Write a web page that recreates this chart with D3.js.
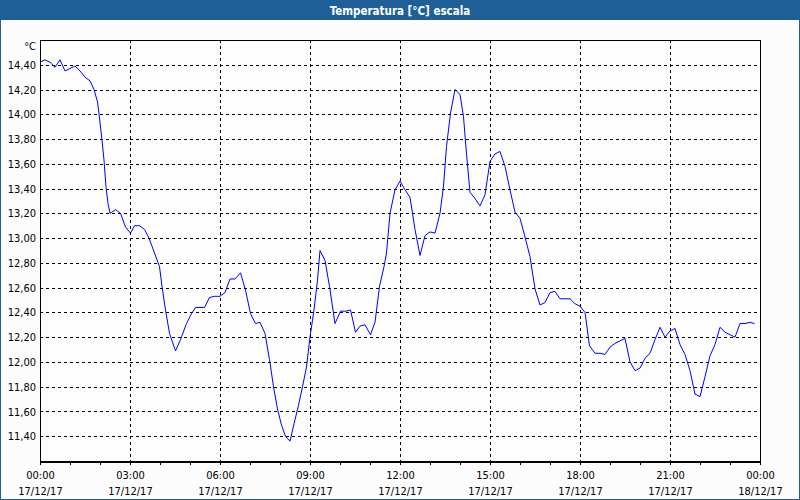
<!DOCTYPE html>
<html>
<head>
<meta charset="utf-8">
<script src="https://cdn.jsdelivr.net/npm/d3@7"></script>
<style>
  html, body { margin: 0; padding: 0; background: #fbfcfb; }
  svg { display: block; }
  text { font-family: "DejaVu Sans Condensed", "DejaVu Sans", sans-serif; font-stretch: condensed; }
</style>
</head>
<body>
<svg id="chart" width="800" height="500"></svg>
<script>
const title = "Temperatura [°C] escala";
const unit = "°C";
const day = "2017-12-17";
const times = ["00:00","00:10","00:20","00:30","00:40","00:50","01:00","01:10","01:20","01:30","01:40","01:48","01:55","01:59","02:04","02:08","02:12","02:16","02:20","02:31","02:41","02:51","03:01","03:09","03:19","03:29","03:38","03:49","03:59","04:04","04:11","04:19","04:31","04:41","04:53","05:03","05:11","05:29","05:39","05:49","06:00","06:10","06:20","06:30","06:41","06:51","07:01","07:11","07:20","07:30","07:39","07:47","07:55","08:03","08:11","08:20","08:28","08:37","08:45","08:53","09:00","09:08","09:15","09:20","09:30","09:39","09:50","10:01","10:12","10:21","10:31","10:40","10:50","11:01","11:10","11:19","11:28","11:33","11:40","11:50","12:00","12:10","12:20","12:30","12:40","12:50","13:00","13:10","13:20","13:27","13:33","13:41","13:50","14:00","14:07","14:13","14:20","14:30","14:40","14:50","15:00","15:10","15:20","15:30","15:40","15:50","16:00","16:10","16:20","16:30","16:40","16:50","17:00","17:10","17:20","17:30","17:40","17:50","18:00","18:10","18:19","18:30","18:40","18:50","19:00","19:10","19:20","19:30","19:40","19:50","20:00","20:10","20:20","20:30","20:40","20:50","21:00","21:10","21:20","21:30","21:40","21:50","22:00","22:10","22:20","22:30","22:40","22:50","23:00","23:10","23:20","23:30","23:40","23:49"];
const temps = [14.42,14.44,14.42,14.38,14.44,14.35,14.37,14.39,14.35,14.30,14.27,14.20,14.10,13.97,13.79,13.63,13.41,13.28,13.20,13.23,13.20,13.09,13.04,13.10,13.10,13.07,13.00,12.88,12.77,12.61,12.42,12.23,12.09,12.18,12.31,12.39,12.44,12.44,12.52,12.53,12.53,12.56,12.67,12.67,12.72,12.58,12.39,12.31,12.32,12.23,12.02,11.80,11.62,11.49,11.40,11.36,11.50,11.65,11.80,11.96,12.20,12.42,12.66,12.90,12.82,12.61,12.31,12.41,12.41,12.42,12.24,12.29,12.30,12.22,12.32,12.61,12.77,12.88,13.20,13.39,13.46,13.39,13.33,13.07,12.86,13.02,13.05,13.04,13.20,13.42,13.74,14.01,14.20,14.16,13.98,13.68,13.37,13.32,13.26,13.35,13.62,13.68,13.70,13.58,13.39,13.21,13.16,13.01,12.85,12.59,12.46,12.48,12.56,12.57,12.51,12.51,12.51,12.47,12.45,12.40,12.13,12.07,12.07,12.06,12.12,12.15,12.17,12.19,12.00,11.93,11.95,12.03,12.07,12.18,12.28,12.20,12.25,12.27,12.14,12.06,11.93,11.74,11.72,11.88,12.05,12.14,12.28,12.24,12.22,12.20,12.31,12.31,12.32,12.31];
const yTicks = [11.4,11.6,11.8,12.0,12.2,12.4,12.6,12.8,13.0,13.2,13.4,13.6,13.8,14.0,14.2,14.4];
const yDomain = [11.2, 14.6];
const xStart = "2017-12-17 00:00", xEnd = "2017-12-18 00:00";

const parse = d3.timeParse("%Y-%m-%d %H:%M");
const data = times.map((t, i) => ({ t: parse(day + " " + t), v: temps[i] }));

const svg = d3.select("#chart");
const W = 800, H = 500;
const m = { left: 40, right: 760, top: 40, bottom: 461 };
const barColor = "#1d5f96";

svg.append("rect").attr("x", 0).attr("y", 0).attr("width", W).attr("height", H).attr("fill", "#fbfcfb");
svg.append("rect").attr("x", 0).attr("y", 0).attr("width", W).attr("height", 20).attr("fill", barColor);
svg.append("rect").attr("x", 0.5).attr("y", 0.5).attr("width", W - 1).attr("height", H - 1)
  .attr("fill", "none").attr("stroke", barColor).attr("stroke-width", 1);
svg.append("text").attr("x", W / 2).attr("y", 14.5).attr("text-anchor", "middle")
  .attr("fill", "#ffffff").attr("font-weight", "bold").attr("font-size", 11.5).text(title);

const x = d3.scaleTime().domain([parse(xStart), parse(xEnd)]).range([m.left, m.right]);
const y = d3.scaleLinear().domain(yDomain).range([m.bottom, m.top]);

const loc = d3.formatLocale({ decimal: ",", thousands: ".", grouping: [3], currency: ["", "€"] });
const fmt = loc.format(".2f");

// plot background
svg.append("rect").attr("x", m.left).attr("y", m.top).attr("width", m.right - m.left).attr("height", m.bottom - m.top)
  .attr("fill", "#fcfdfc");

// grid
const grid = svg.append("g").attr("shape-rendering", "crispEdges")
  .attr("stroke", "#000").attr("stroke-dasharray", "3,3").attr("stroke-width", 1);
grid.selectAll("line.h").data(yTicks).join("line").attr("class", "h")
  .attr("x1", m.left).attr("x2", m.right)
  .attr("y1", d => Math.round(y(d)) + 0.5).attr("y2", d => Math.round(y(d)) + 0.5);
const vTicks = d3.timeHour.every(3).range(parse(xStart), parse(xEnd)).slice(1);
grid.selectAll("line.v").data(vTicks).join("line").attr("class", "v")
  .attr("y1", m.top).attr("y2", m.bottom)
  .attr("x1", d => Math.round(x(d)) + 0.5).attr("x2", d => Math.round(x(d)) + 0.5);

// border
svg.append("rect").attr("x", m.left + 0.5).attr("y", m.top + 0.5)
  .attr("width", m.right - m.left).attr("height", m.bottom - m.top)
  .attr("fill", "none").attr("stroke", "#000").attr("shape-rendering", "crispEdges");

// y axis
const yAxis = d3.axisLeft(y).tickValues(yTicks).tickSize(0).tickPadding(4).tickFormat(d => fmt(d));
const gy = svg.append("g").attr("transform", `translate(${m.left},0)`).call(yAxis);
gy.select(".domain").remove();
gy.selectAll("text").attr("font-size", 11).attr("fill", "#000").attr("font-family", null);

svg.append("text").attr("x", 36).attr("y", 50).attr("text-anchor", "end")
  .attr("font-size", 11).attr("fill", "#000").text(unit);

// x axis
const hourTicks = d3.timeHour.every(1).range(parse(xStart), d3.timeMinute.offset(parse(xEnd), 1));
const xAxis = d3.axisBottom(x).tickValues(hourTicks).tickSize(3).tickSizeOuter(0).tickFormat(() => "");
const gx = svg.append("g").attr("transform", `translate(0,${m.bottom + 0.5})`).call(xAxis);
gx.select(".domain").attr("stroke", "#000");
gx.selectAll(".tick line").attr("shape-rendering", "crispEdges");
gx.attr("shape-rendering", "crispEdges");

const labelTicks = d3.timeHour.every(3).range(parse(xStart), d3.timeMinute.offset(parse(xEnd), 1));
const fTime = d3.timeFormat("%H:%M"), fDate = d3.timeFormat("%d/%m/%y");
const lab = svg.append("g").attr("font-size", 11).attr("fill", "#000").attr("text-anchor", "middle");
lab.selectAll("text.t").data(labelTicks).join("text").attr("class", "t")
  .attr("x", d => x(d) + 0.5).attr("y", 479).text(d => fTime(d));
lab.selectAll("text.d").data(labelTicks).join("text").attr("class", "d")
  .attr("x", d => x(d) + 0.5).attr("y", 495).text(d => fDate(d));

// line
const line = d3.line().x(d => x(d.t)).y(d => y(d.v));
svg.append("path").datum(data).attr("d", line)
  .attr("fill", "none").attr("stroke", "#0000ff").attr("stroke-width", 1);
</script>
</body>
</html>
